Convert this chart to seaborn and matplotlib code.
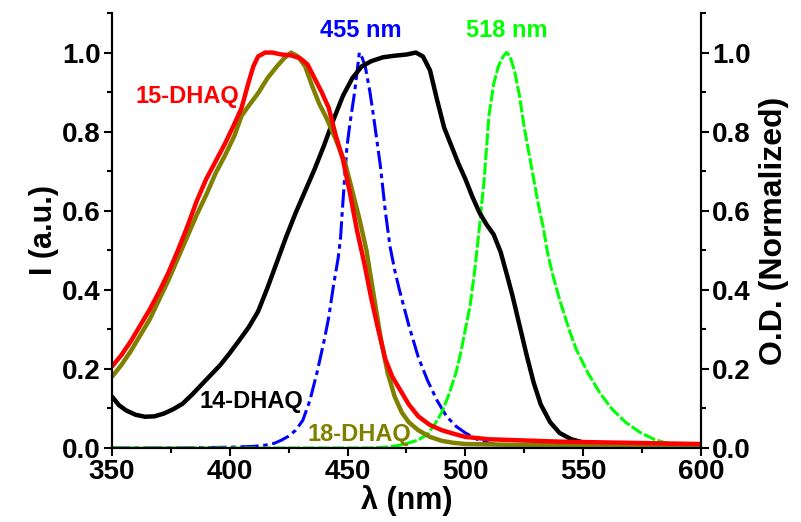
import seaborn as sns
import matplotlib.pyplot as plt
from matplotlib.ticker import MultipleLocator

# espectros (lambda en nm, intensidad normalizada)
x_15 = [350, 354, 358, 362, 366, 370, 374, 378, 382, 386, 390, 394, 398, 402, 405, 408, 410, 412, 415, 418,
        422, 426, 430, 433, 436, 439, 442, 445, 448, 451, 454, 457, 460, 463, 466, 469, 472, 476, 480, 485,
        490, 495, 500, 510, 520, 540, 560, 580, 600]
y_15 = [0.206, 0.235, 0.27, 0.31, 0.35, 0.395, 0.444, 0.5, 0.56, 0.625, 0.68, 0.725, 0.77, 0.82, 0.86, 0.925, 0.965, 0.99, 1.0, 1.0,
        0.995, 0.993, 0.985, 0.97, 0.935, 0.9, 0.86, 0.79, 0.73, 0.645, 0.55, 0.47, 0.38, 0.30, 0.225, 0.18, 0.15, 0.11, 0.08, 0.058,
        0.045, 0.036, 0.028, 0.022, 0.02, 0.016, 0.014, 0.012, 0.01]

x_18 = [350, 354, 358, 362, 366, 370, 374, 378, 382, 386, 390, 394, 398, 402, 405, 408, 412, 416, 420, 423,
        426, 429, 432, 435, 438, 441, 445, 449, 452, 455, 458, 461, 464, 467, 470, 473, 476, 480, 485, 490,
        495, 500, 520, 560, 600]
y_18 = [0.18, 0.21, 0.245, 0.285, 0.325, 0.375, 0.425, 0.48, 0.535, 0.59, 0.64, 0.695, 0.74, 0.79, 0.84, 0.865, 0.897, 0.935, 0.965, 0.985,
        1.0, 0.99, 0.965, 0.915, 0.87, 0.835, 0.78, 0.72, 0.65, 0.58, 0.50, 0.39, 0.28, 0.19, 0.13, 0.09, 0.065, 0.045, 0.028, 0.018,
        0.013, 0.01, 0.008, 0.006, 0.005]

x_14 = [350, 353, 356, 360, 364, 368, 372, 376, 380, 384, 388, 392, 396, 400, 404, 408, 412, 416, 420, 424,
        428, 432, 436, 440, 444, 448, 452, 456, 460, 465, 470, 475, 479, 482, 485, 488, 491, 494, 497, 500,
        503, 506, 509, 512, 515, 518, 520, 522, 524, 526, 529, 532, 536, 540, 545, 550, 560, 580, 600]
y_14 = [0.13, 0.108, 0.095, 0.084, 0.079, 0.08, 0.087, 0.098, 0.112, 0.135, 0.16, 0.185, 0.21, 0.24, 0.272, 0.305, 0.345, 0.405, 0.47, 0.535,
        0.595, 0.65, 0.705, 0.765, 0.83, 0.89, 0.935, 0.965, 0.978, 0.988, 0.992, 0.995, 1.0, 0.99, 0.955, 0.88, 0.81, 0.765, 0.72, 0.68,
        0.635, 0.595, 0.565, 0.54, 0.495, 0.43, 0.385, 0.335, 0.285, 0.235, 0.165, 0.11, 0.065, 0.038, 0.022, 0.014, 0.01, 0.007, 0.006]

# absorbancias (O.D.)
x_455 = [350, 380, 400, 410, 415, 419, 422, 425, 428, 431, 434, 437, 440, 442, 444, 446, 447, 448, 449.7, 451,
         453, 455, 456, 457.5, 459.5, 461, 464, 466, 468, 470, 472, 476, 480, 484, 488, 492, 496, 500, 505, 510,
         515, 520, 540, 600]
y_455 = [0.0, 0.0, 0.002, 0.004, 0.007, 0.012, 0.02, 0.03, 0.045, 0.07, 0.12, 0.19, 0.27, 0.33, 0.41, 0.48, 0.53, 0.62, 0.76, 0.82,
         0.9, 1.0, 0.99, 0.965, 0.9, 0.84, 0.71, 0.6, 0.51, 0.45, 0.40, 0.31, 0.23, 0.17, 0.12, 0.08, 0.055, 0.038, 0.022, 0.012,
         0.007, 0.004, 0.002, 0.0]

x_518 = [350, 460, 468, 472, 476, 480, 484, 487, 490, 493, 496, 498, 500, 502, 504, 506, 508, 510, 512, 514,
         516, 517.5, 519, 521, 523, 525, 527, 529, 531, 533, 535, 537, 540, 544, 547, 552, 557, 562, 568, 574,
         580, 585, 590, 595, 600]
y_518 = [0.0, 0.0, 0.003, 0.007, 0.013, 0.02, 0.035, 0.06, 0.09, 0.135, 0.19, 0.24, 0.3, 0.36, 0.45, 0.56, 0.68, 0.84, 0.92, 0.965,
         0.99, 1.0, 0.99, 0.95, 0.89, 0.81, 0.745, 0.68, 0.615, 0.56, 0.49, 0.44, 0.375, 0.3, 0.25, 0.19, 0.14, 0.1, 0.065, 0.04,
         0.022, 0.013, 0.008, 0.005, 0.003]

sns.set_style("ticks")
plt.rcParams['font.family'] = ['Liberation Sans', 'DejaVu Sans']
plt.rcParams['font.weight'] = 'bold'
plt.rcParams['text.color'] = 'black'
plt.rcParams['axes.labelcolor'] = 'black'
plt.rcParams['xtick.color'] = 'black'
plt.rcParams['ytick.color'] = 'black'
plt.rcParams['axes.edgecolor'] = 'black'

fig = plt.figure(figsize=(8.01, 5.22), dpi=100)
ax = fig.add_axes([0.1398, 0.1418, 0.7353, 0.8333])

sns.lineplot(x=x_455, y=y_455, color="#0000FF", lw=2.2, ls=(0, (6, 1.5, 1.5, 1.5)), ax=ax)
sns.lineplot(x=x_518, y=y_518, color="#00FF00", lw=2.2, ls=(0, (4, 0.8)), ax=ax)
sns.lineplot(x=x_14, y=y_14, color="black", lw=3.2, ax=ax)
sns.lineplot(x=x_18, y=y_18, color="#808000", lw=3.2, ax=ax)
sns.lineplot(x=x_15, y=y_15, color="#FF0000", lw=3.2, ax=ax)

ax.set_xlim(350, 600)
ax.set_ylim(0, 1.1)
ax.xaxis.set_major_locator(MultipleLocator(50))
ax.xaxis.set_minor_locator(MultipleLocator(25))
ax.yaxis.set_major_locator(MultipleLocator(0.2))
ax.yaxis.set_minor_locator(MultipleLocator(0.1))
ax.yaxis.set_major_formatter(plt.FormatStrFormatter('%.1f'))
ax.set_xlabel("λ (nm)", fontsize=22, fontweight='bold', labelpad=0)
ax.set_ylabel("I (a.u.)", fontsize=22, fontweight='bold', labelpad=2)

ax2 = ax.twinx()
ax2.set_ylim(0, 1.1)
ax2.yaxis.set_major_locator(MultipleLocator(0.2))
ax2.yaxis.set_minor_locator(MultipleLocator(0.1))
ax2.yaxis.set_major_formatter(plt.FormatStrFormatter('%.1f'))
ax2.set_ylabel("O.D. (Normalized)", fontsize=23, fontweight='bold', labelpad=6)

for a in (ax, ax2):
    a.spines['top'].set_visible(False)
    for s in a.spines.values():
        s.set_linewidth(1.5)
    a.tick_params(which='major', length=6, width=1.5, labelsize=20, pad=2)
    a.tick_params(which='minor', length=3.5, width=1.5)
ax.tick_params(axis='y', which='both', right=False)

# etiquetas de las curvas
ax.text(360, 0.89, "15-DHAQ", color="#FF0000", fontsize=17, fontweight='bold', va='center')
ax.text(387, 0.117, "14-DHAQ", color="black", fontsize=17, fontweight='bold', va='center')
ax.text(433, 0.033, "18-DHAQ", color="#808000", fontsize=17, fontweight='bold', va='center')
ax.text(455.5, 1.056, "455 nm", color="#0000FF", fontsize=17, fontweight='bold', va='center', ha='center')
ax.text(517.5, 1.056, "518 nm", color="#00FF00", fontsize=17, fontweight='bold', va='center', ha='center')

plt.savefig("out.png", dpi=100)
